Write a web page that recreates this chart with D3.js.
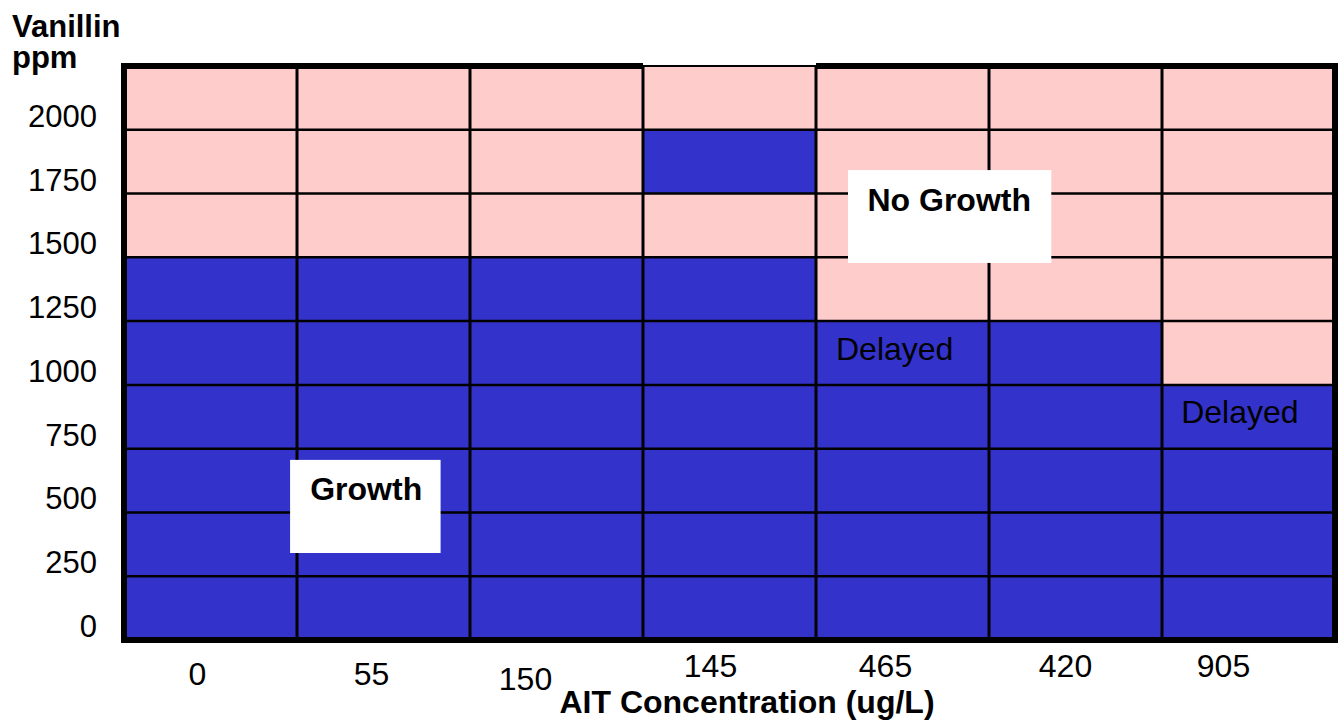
<!DOCTYPE html>
<html>
<head>
<meta charset="utf-8">
<script src="https://cdn.jsdelivr.net/npm/d3@7"></script>
<style>
  body { margin: 0; background: #fff; }
  text { font-family: Arial, "Liberation Sans", sans-serif; fill: #000; }
</style>
</head>
<body>
<div id="chart"></div>
<script>
// AIT concentrations (x categories, in drawing order)
const concentrations = ["0", "55", "150", "145", "465", "420", "905"];
// vanillin tick labels (ppm)
const vanillinTicks = [0, 250, 500, 750, 1000, 1250, 1500, 1750, 2000];
// lower edge of each vanillin row, top of grid is 2250
const rowStarts = [0, 250, 500, 750, 1000, 1250, 1500, 1750, 2000];
const rowStep = 250;
// 1 = growth, 0 = no growth; per column, rows from 0 ppm upward
const growthGrid = [
    [1, 1, 1, 1, 1, 1, 0, 0, 0],
    [1, 1, 1, 1, 1, 1, 0, 0, 0],
    [1, 1, 1, 1, 1, 1, 0, 0, 0],
    [1, 1, 1, 1, 1, 1, 0, 1, 0],
    [1, 1, 1, 1, 1, 0, 0, 0, 0],
    [1, 1, 1, 1, 1, 0, 0, 0, 0],
    [1, 1, 1, 1, 0, 0, 0, 0, 0]
];
// annotation boxes / labels, in column units and ppm
const boxNotes = [
    { text: "Growth", x0: 0.96, x1: 1.83, y0: 341, y1: 706, tx: 1.4, ty: 549 },
    { text: "No Growth", x0: 4.185, x1: 5.36, y0: 1478, y1: 1842, tx: 4.77, ty: 1682 }
];
const delayedNotes = [
    { text: "Delayed", tx: 4.455, ty: 1098 },
    { text: "Delayed", tx: 6.45, ty: 851 }
];
// small nudges of x tick labels as in the original slide
const xLabelNudge = [[-13, 0], [-12, 0], [-31, 5], [-19, -8], [-17, -8], [-10, -8], [-25, -8]];

const W = 1340, H = 721;
const svg = d3.select('#chart')
    .append('svg')
    .attr('width', W)
    .attr('height', H);

var x = d3.scaleLinear()
    .domain([0, concentrations.length])
    .range([124, 1335]);
var y = d3.scaleLinear()
    .domain([0, 2250])
    .range([640, 66]);

// cells
var cells = [];
growthGrid.forEach((col, i) => {
    col.forEach((g, j) => {
        cells.push({ col: i, lo: rowStarts[j], growth: g });
    });
});
svg.append('g')
    .selectAll('rect')
    .data(cells)
    .enter()
    .append('rect')
    .attr('x', d => x(d.col))
    .attr('y', d => y(d.lo + rowStep))
    .attr('width', d => x(d.col + 1) - x(d.col))
    .attr('height', d => y(d.lo) - y(d.lo + rowStep))
    .attr('fill', d => d.growth ? '#3333cc' : '#ffcccc');

// inner grid lines
svg.append('g')
    .selectAll('line')
    .data(rowStarts.slice(1))
    .enter()
    .append('line')
    .attr('x1', x(0)).attr('x2', x(concentrations.length))
    .attr('y1', d => y(d)).attr('y2', d => y(d))
    .attr('stroke', '#000')
    .attr('stroke-width', 2.5);

svg.append('g')
    .selectAll('line')
    .data(d3.range(1, concentrations.length))
    .enter()
    .append('line')
    .attr('x1', d => x(d)).attr('x2', d => x(d))
    .attr('y1', y(2250)).attr('y2', y(0))
    .attr('stroke', '#000')
    .attr('stroke-width', 3);

// frame: thick left / bottom / right, top thin over the 4th column
var frame = svg.append('g').attr('stroke', '#000').attr('stroke-linecap', 'square');
frame.append('line')
    .attr('x1', x(0)).attr('x2', x(0))
    .attr('y1', y(2250)).attr('y2', y(0))
    .attr('stroke-width', 6);
frame.append('line')
    .attr('x1', x(0)).attr('x2', x(7))
    .attr('y1', y(0)).attr('y2', y(0))
    .attr('stroke-width', 6);
frame.append('line')
    .attr('x1', x(7)).attr('x2', x(7))
    .attr('y1', y(2250)).attr('y2', y(0))
    .attr('stroke-width', 6);
frame.selectAll('.top')
    .data(d3.range(concentrations.length))
    .enter()
    .append('line')
    .attr('class', 'top')
    .attr('stroke-linecap', 'butt')
    .attr('x1', d => x(d)).attr('x2', d => x(d + 1))
    .attr('y1', y(2250)).attr('y2', y(2250))
    .attr('stroke-width', d => d === 3 ? 2 : 6);

// white annotation boxes
svg.append('g')
    .selectAll('rect')
    .data(boxNotes)
    .enter()
    .append('rect')
    .attr('x', d => x(d.x0))
    .attr('y', d => y(d.y1))
    .attr('width', d => x(d.x1) - x(d.x0))
    .attr('height', d => y(d.y0) - y(d.y1))
    .attr('fill', '#fff');

svg.append('g')
    .selectAll('text')
    .data(boxNotes)
    .enter()
    .append('text')
    .attr('x', d => x(d.tx))
    .attr('y', d => y(d.ty))
    .attr('text-anchor', 'middle')
    .style('font-size', '32px')
    .style('font-weight', 'bold')
    .text(d => d.text);

svg.append('g')
    .selectAll('text')
    .data(delayedNotes)
    .enter()
    .append('text')
    .attr('x', d => x(d.tx))
    .attr('y', d => y(d.ty))
    .attr('text-anchor', 'middle')
    .style('font-size', '32px')
    .text(d => d.text);

// y tick labels
svg.append('g')
    .selectAll('text')
    .data(vanillinTicks)
    .enter()
    .append('text')
    .attr('x', 97)
    .attr('y', d => y(d) - 3)
    .attr('text-anchor', 'end')
    .style('font-size', '31px')
    .text(d => d);

// x tick labels
svg.append('g')
    .selectAll('text')
    .data(concentrations)
    .enter()
    .append('text')
    .attr('x', (d, i) => x(i + 0.5) + xLabelNudge[i][0])
    .attr('y', (d, i) => 685 + xLabelNudge[i][1])
    .attr('text-anchor', 'middle')
    .style('font-size', '32px')
    .text(d => d);

// axis titles
var yTitle = svg.append('text')
    .attr('x', 12)
    .attr('y', 37)
    .style('font-size', '31px')
    .style('font-weight', 'bold');
yTitle.append('tspan').attr('x', 12).text('Vanillin');
yTitle.append('tspan').attr('x', 12).attr('y', 68).text('ppm');

svg.append('text')
    .attr('x', 747)
    .attr('y', 713)
    .attr('text-anchor', 'middle')
    .style('font-size', '32px')
    .style('font-weight', 'bold')
    .text('AIT Concentration (ug/L)');
</script>
</body>
</html>
